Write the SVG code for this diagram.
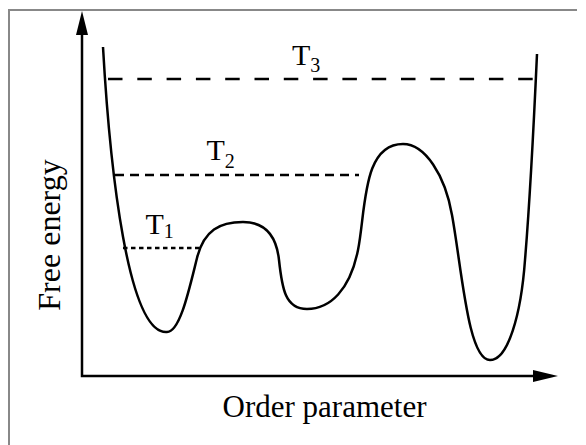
<svg xmlns="http://www.w3.org/2000/svg" width="586" height="445" viewBox="0 0 586 445">
<style>
.lbl{font-family:'Liberation Serif','Times New Roman','DejaVu Serif','Noto Serif',serif;fill:#000}
.ax{stroke:#000;stroke-width:2.5;fill:none}
.lvl{stroke:#000;stroke-width:2.5;fill:none}
</style>
<rect width="586" height="445" fill="#fff"/>
<g id="frame"><path d="M9,445 V10 H577" fill="none" stroke="#888" stroke-width="2"/></g>
<g id="axes">
<path class="ax" d="M82,30 V376 H540"/>
<polygon points="82,11 76,35 88,35" fill="#000"/>
<polygon points="558,376 533,370 533,382" fill="#000"/>
</g>
<g id="curve">
<path class="ax" d="M103,47 C110,170 128,335 167,332 C180,332 189,290 197,258 C204,230 220,222 243,222 C262,222 276,232 279,260 C282,288 285,309 307,309 C330,309 350,290 358,250 C366,210 362,144 403,144 C425,144 445,175 452,215 C462,270 468,360 490,360 C508,360 521,315 525,260 C530,200 534,120 537,54"/>
</g>
<g id="levels">
<line class="lvl" x1="108" y1="79" x2="533" y2="79" stroke-dasharray="14.5 14.8"/>
<line class="lvl" x1="115" y1="175" x2="359" y2="175" stroke-dasharray="9 6"/>
<line class="lvl" x1="123" y1="248" x2="202" y2="248" stroke-width="2.2" stroke-dasharray="4.5 3.5"/>
</g>
<g id="labels">
<text class="lbl" x="292" y="65" font-size="30">T<tspan font-size="20" dy="7">3</tspan></text>
<text class="lbl" x="206.5" y="160" font-size="30">T<tspan font-size="20" dy="8">2</tspan></text>
<text class="lbl" x="145.5" y="234" font-size="30">T<tspan font-size="20" dy="4">1</tspan></text>
<text class="lbl" x="324.5" y="417" font-size="31" text-anchor="middle">Order parameter</text>
<text class="lbl" transform="translate(60,235) rotate(-90)" font-size="32" text-anchor="middle">Free energy</text>
</g>
</svg>
